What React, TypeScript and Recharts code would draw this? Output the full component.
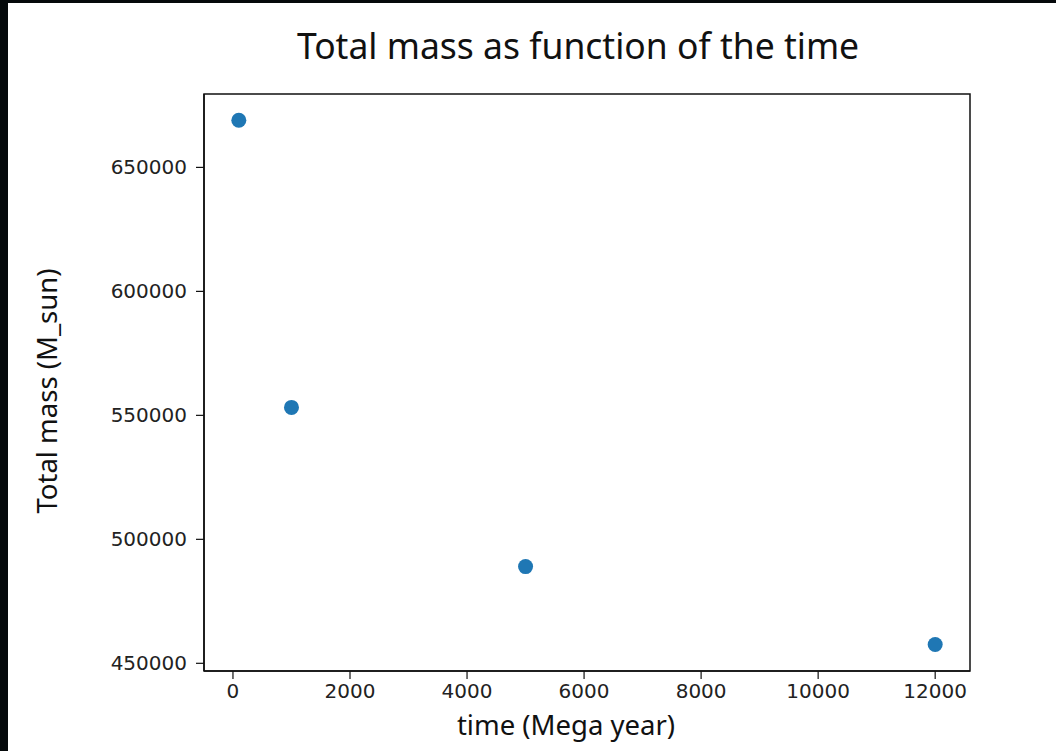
import React from "react";
import { ScatterChart, Scatter, XAxis, YAxis, ReferenceArea } from "recharts";

const timeValues = [100, 1000, 5000, 12000];
const massValues = [669000, 553200, 489000, 457600];
const xTicks = [0, 2000, 4000, 6000, 8000, 10000, 12000];
const yTicks = [450000, 500000, 550000, 600000, 650000];

const data = timeValues.map((t, i) => ({ time: t, mass: massValues[i] }));

const X_DOMAIN: [number, number] = [-495, 12595];
const Y_DOMAIN: [number, number] = [446900, 679600];

const Dot = (props: any) => {
  const { cx, cy } = props;
  return <circle cx={cx} cy={cy} r={7.5} fill="#1f77b4" />;
};

const tickStyle = { fill: "#222", fontSize: 20, fontFamily: "DejaVu Sans" };
const labelFont = "Noto Sans";

export default function App() {
  return (
    <div style={{ position: "absolute", left: 0, top: 0, width: 1056, height: 751, background: "#05090b" }}>
      <div style={{ position: "absolute", left: 8, top: 3, width: 1048, height: 748, background: "#fff" }} />
      <div style={{ position: "absolute", left: 0, top: 0 }}>
        <ScatterChart width={1056} height={751} margin={{ top: 94, right: 86, bottom: 40, left: 124 }}>
          <text x={578} y={59} textAnchor="middle" fontFamily={labelFont} fontSize={35.5} fill="#111">
            Total mass as function of the time
          </text>
          <text x={566} y={735} textAnchor="middle" fontFamily={labelFont} fontSize={27.5} fill="#111">
            time (Mega year)
          </text>
          <text x={57} y={391} textAnchor="middle" fontFamily={labelFont} fontSize={27.5} fill="#111" transform="rotate(-90 57 391)">
            Total mass (M_sun)
          </text>
          <XAxis
            type="number"
            dataKey="time"
            domain={X_DOMAIN}
            ticks={xTicks}
            allowDataOverflow
            height={40}
            tickSize={8}
            tickMargin={5}
            tick={tickStyle}
            axisLine={{ stroke: "#111", strokeWidth: 1.5 }}
            tickLine={{ stroke: "#111", strokeWidth: 1.2 }}
          />
          <YAxis
            type="number"
            dataKey="mass"
            domain={Y_DOMAIN}
            ticks={yTicks}
            allowDataOverflow
            width={80}
            tickSize={8}
            tickMargin={9}
            tick={tickStyle}
            axisLine={{ stroke: "#111", strokeWidth: 1.5 }}
            tickLine={{ stroke: "#111", strokeWidth: 1.2 }}
          />
          <ReferenceArea x1={X_DOMAIN[0]} x2={X_DOMAIN[1]} y1={Y_DOMAIN[0]} y2={Y_DOMAIN[1]} fill="none" stroke="#111" strokeWidth={1.5} ifOverflow="visible" />
          <Scatter data={data} shape={Dot} isAnimationActive={false} />
        </ScatterChart>
      </div>
    </div>
  );
}
